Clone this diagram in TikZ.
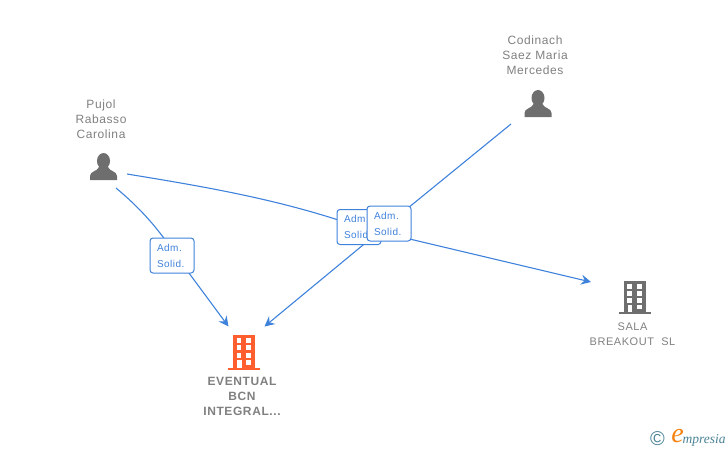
\documentclass[tikz,border=0pt]{standalone}
\usepackage{fontspec}
\usepackage{xcolor}
\setmainfont{Liberation Sans}
\newfontfamily\lblfont[LetterSpace=5]{Liberation Sans}
\newfontfamily\logofont{Liberation Serif}
\usetikzlibrary{arrows.meta}
\pgfdeclarelayer{background}
\pgfsetlayers{background,main}
\definecolor{linkblue}{HTML}{3F82DC}
\definecolor{labelgrey}{HTML}{808080}
\definecolor{icongrey}{HTML}{6E6E6E}
\definecolor{iconred}{HTML}{FF5E2E}
\definecolor{logoteal}{HTML}{4A8296}
\definecolor{logoorange}{HTML}{F5830F}
\tikzset{
  person/.pic={
    \fill[icongrey] (0,-19) ellipse (6.5 and 8);
    \fill[icongrey] (-13.5,0) -- (-13.5,-4) .. controls (-13.5,-9) and (-6,-8.5) .. (-4.5,-13)
      -- (4.5,-13) .. controls (6,-8.5) and (13.5,-9) .. (13.5,-4) -- (13.5,0) -- cycle;
  },
  building/.pic={
    \fill[pic actions] (-11,-1) rectangle (11,-33);
    \fill[pic actions] (-16,0) rectangle (16,-2);
    \foreach \yy in {-30,-23,-16} {
      \fill[white] (-7.5,\yy) rectangle (-3,\yy+4.5);
      \fill[white] (2,\yy) rectangle (7,\yy+4.5);
    }
    \fill[white] (-7,-9) rectangle (-2.5,-2);
    \fill[white] (2,-9) rectangle (7,-5);
  },
  namelabel/.style={text=labelgrey,align=center,inner sep=0pt,font=\fontsize{12}{15}\selectfont\lblfont},
  firmlabel/.style={namelabel,font=\fontsize{12}{15}\selectfont\lblfont\bfseries},
  rolebox/.style={draw=linkblue,fill=white,line width=1pt,rounded corners=3pt,minimum width=44pt,minimum height=35pt,
    inner xsep=7pt,inner ysep=0pt,text=linkblue,align=left,text width=30pt,font=\fontsize{10}{16}\selectfont\lblfont},
  link/.style={draw=linkblue,line width=1.1pt},
  linkarrow/.style={link,-{Stealth[length=10pt,width=10pt,inset=3.5pt]}},
}
\begin{document}
\begin{tikzpicture}[x=1pt,y=-1pt]
  \useasboundingbox (0,0) rectangle (728,450);
  % people and firms
  \pic at (103.5,180) {person};
  \pic at (538,117) {person};
  \pic[fill=iconred,yscale=1.07] at (244,370) {building};
  \pic[fill=icongrey] at (634.5,314) {building};
  \node[namelabel] (pujol) at (101,119) {Pujol\\Rabasso\\Carolina};
  \node[namelabel] (codinach) at (535,55) {Codinach\\Saez Maria\\Mercedes};
  \node[firmlabel] (eventual) at (242,396) {EVENTUAL\\BCN\\INTEGRAL...};
  \node[namelabel,font=\fontsize{11}{15}\selectfont\lblfont] (sala) at (632.5,334.5) {SALA\\BREAKOUT\ \ SL};
  % roles
  \node[rolebox] (solidA) at (172,255.5) {Adm.\\Solid.};
  \node[rolebox] (solidB) at (359,227) {Adm.\\Solid.};
  \node[rolebox] (solidC) at (389,223.5) {Adm.\\Solid.};
  % link ends
  \node (pujolA) at (116,188) {};
  \node (pujolB) at (127,174) {};
  \node (codinachA) at (511,124) {};
  \node (eventualA) at (228.5,326.5) {};
  \node (eventualB) at (264.5,326.5) {};
  \node (salaA) at (591,282) {};
  \node (kneeA) at (176,255.5) {};
  \begin{pgfonlayer}{background}
    \draw[link] (pujolA.center) .. controls (140,208) and (158,228) .. (kneeA.center);
    \draw[linkarrow] (kneeA.center) -- (eventualA.center);
    \draw[link] (pujolB.center) .. controls (200,186) and (280,199) .. (solidB.center);
    \draw[linkarrow] (solidB.center) -- (salaA.center);
    \draw[link] (codinachA.center) -- (solidC.center);
    \draw[linkarrow] (solidC.center) -- (eventualB.center);
  \end{pgfonlayer}
  % logo
  \node[inner sep=0pt,text=logoteal,font=\fontsize{20}{20}\selectfont] (copyr) at (657.5,439) {©};
  \node[inner sep=0pt,text=logoorange,font=\fontsize{28}{28}\selectfont\logofont\itshape] (logoe) at (677.5,436) {e};
  \node[inner sep=0pt,anchor=west,text=logoteal,font=\fontsize{13.5}{14}\selectfont\logofont\itshape] (logotext) at (682.5,440) {mpresia};
\end{tikzpicture}
\end{document}
